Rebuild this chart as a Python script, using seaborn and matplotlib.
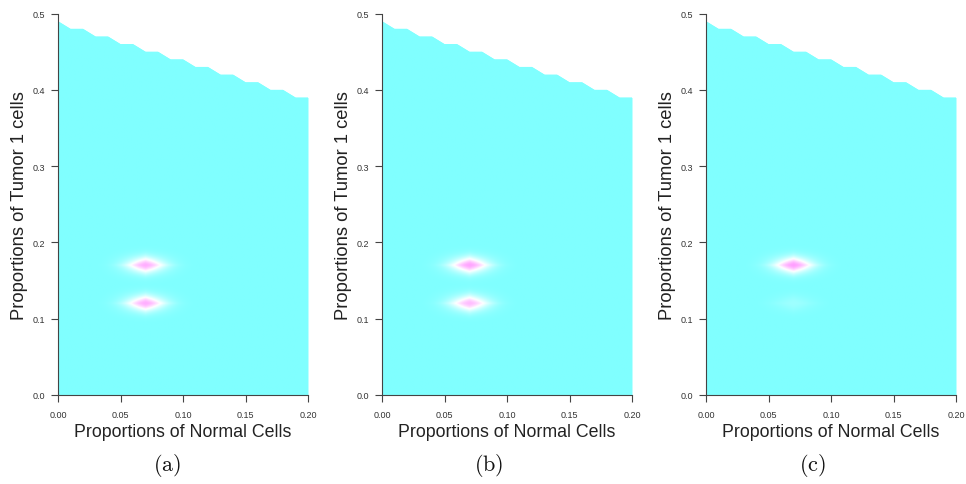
import numpy as np
import matplotlib
matplotlib.use("Agg")
import matplotlib.pyplot as plt
from matplotlib.colors import LinearSegmentedColormap
import seaborn as sns

# grid of normal-cell proportions and the largest admissible tumor-1 proportion at each
normal_grid = [0.00, 0.01, 0.02, 0.03, 0.04, 0.05, 0.06, 0.07, 0.08, 0.09, 0.10,
               0.11, 0.12, 0.13, 0.14, 0.15, 0.16, 0.17, 0.18, 0.19, 0.20]
tumor1_max = [0.49, 0.48, 0.48, 0.47, 0.47, 0.46, 0.46, 0.45, 0.45, 0.44, 0.44,
              0.43, 0.43, 0.42, 0.42, 0.41, 0.41, 0.40, 0.40, 0.39, 0.39]

# posterior modes: (normal, tumor1) locations and relative heights for each panel
mode_normal = [0.07, 0.07]
mode_tumor1 = [0.17, 0.12]
mode_height = {
    "(a)": [0.82, 0.82],
    "(b)": [0.86, 0.76],
    "(c)": [0.88, 0.12],
}
mode_spread = (0.016, 0.0105)

x_ticks = [0.00, 0.05, 0.10, 0.15, 0.20]
x_ticklabels = ["0.00", "0.05", "0.10", "0.15", "0.20"]
y_ticks = [0.0, 0.1, 0.2, 0.3, 0.4, 0.5]
y_ticklabels = ["0.0", "0.1", "0.2", "0.3", "0.4", "0.5"]

sns.set_theme(style="ticks")
plt.rcParams["font.family"] = ["Liberation Sans", "DejaVu Sans"]
plt.rcParams["mathtext.fontset"] = "cm"

# R-style cm.colors: cyan -> white -> magenta
cm_colors = LinearSegmentedColormap.from_list("cm_colors", ["#80FFFF", "#FFFFFF", "#FF80FF"])

W, H = 966, 485
fig = plt.figure(figsize=(W / 100, H / 100), dpi=100)

panel_left = [58, 382, 706]
ax_w, ax_top, ax_bottom = 250, 14.5, 396
caption_x = [167, 489, 812]

xs = np.linspace(0, 0.2, 401)
ys = np.linspace(0, 0.5, 801)
XX, YY = np.meshgrid(xs, ys)

for i, (name, heights) in enumerate(mode_height.items()):
    ax = fig.add_axes([panel_left[i] / W, 1 - ax_bottom / H,
                       ax_w / W, (ax_bottom - ax_top) / H])
    sx, sy = mode_spread
    Z = np.zeros_like(XX)
    for mx, my, h in zip(mode_normal, mode_tumor1, heights):
        dx = np.abs(XX - mx) / sx
        dy = np.abs(YY - my) / sy
        l1 = dx + dy
        l2 = np.sqrt(dx ** 2 + dy ** 2)
        Z += h * (0.55 * np.exp(-l1 ** 2) + 0.45 * np.exp(-(l2 / 1.15) ** 2))

    region = ax.fill_between(normal_grid, 0, tumor1_max, color="#80FFFF", lw=0, zorder=1)
    im = ax.imshow(Z, extent=[0, 0.2, 0, 0.5], origin="lower", aspect="auto",
                   cmap=cm_colors, vmin=0, vmax=1, interpolation="bilinear", zorder=2)
    path = region.get_paths()[0]
    im.set_clip_path(path, transform=ax.transData)

    ax.set_xlim(0, 0.2)
    ax.set_ylim(0, 0.5)
    ax.set_xticks(x_ticks)
    ax.set_xticklabels(x_ticklabels)
    ax.set_yticks(y_ticks)
    ax.set_yticklabels(y_ticklabels)
    ax.tick_params(axis="both", labelsize=6.5, length=5, width=0.8,
                   color="#444444", labelcolor="#333333", pad=4)
    ax.tick_params(axis="x", pad=6)
    sns.despine(ax=ax)
    for side in ("left", "bottom"):
        ax.spines[side].set_color("#444444")
        ax.spines[side].set_linewidth(0.8)
        ax.spines[side].set_zorder(3)
    ax.set_facecolor("white")

    ax.set_xlabel("Proportions of Normal Cells", fontsize=12.8, color="#222222")
    ax.xaxis.set_label_coords(0.5, -0.073)
    ax.set_ylabel("Proportions of Tumor 1 cells", fontsize=13.2, color="#222222")
    ax.yaxis.set_label_coords(-0.118, 0.5)

    fig.text(caption_x[i] / W, 1 - 466 / H, r"$\mathrm{" + name + "}$",
             ha="center", va="center", fontsize=16, color="#111111")

fig.savefig("out.png", dpi=100, facecolor="white")
